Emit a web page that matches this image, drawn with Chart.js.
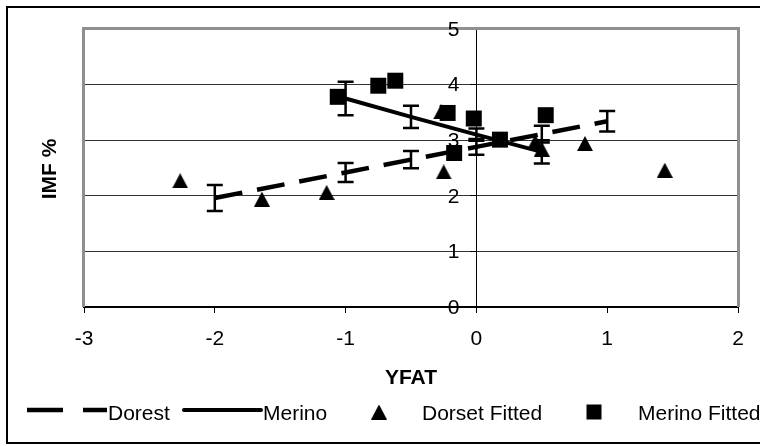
<!DOCTYPE html>
<html><head><meta charset="utf-8">
<script src="https://cdn.jsdelivr.net/npm/chart.js@4.4.0/dist/chart.umd.min.js"></script>
<style>html,body{margin:0;padding:0;background:#fff;}</style>
</head><body>
<canvas id="c" width="760" height="446" style="display:block;width:760px;height:446px"></canvas>
<script>
// ---- data ----
const xTicks = [-3, -2, -1, 0, 1, 2];
const yTicks = [0, 1, 2, 3, 4, 5];
const dorsetLineX = [-2, -1, -0.5, 0, 0.5, 1];
const dorsetLineY = [1.96, 2.42, 2.65, 2.88, 3.11, 3.34];
const dorsetErr   = [0.235, 0.17, 0.155, 0.14, 0.15, 0.185];
const merinoLineX = [-1, -0.5, 0, 0.5];
const merinoLineY = [3.75, 3.42, 3.10, 2.79];
const merinoErr   = [0.30, 0.20, 0.11, 0.21];
const dorsetFitX = [-2.265, -1.64, -1.145, -0.27, -0.25, 0.45, 0.50, 0.83, 1.44];
const dorsetFitY = [2.27, 1.94, 2.06, 3.51, 2.43, 2.97, 2.84, 2.94, 2.46];
const merinoFitX = [-1.06, -0.75, -0.62, -0.22, -0.02, 0.18, 0.53, -0.17];
const merinoFitY = [3.78, 3.98, 4.07, 3.49, 3.39, 3.01, 3.45, 2.77];
const legendLabels = ['Dorest', 'Merino', 'Dorset Fitted', 'Merino Fitted'];
const xTitle = 'YFAT';
const yTitle = 'IMF %';

const FONT = "'Liberation Sans', Arial, sans-serif";
const pts = (xs, ys) => xs.map((v, i) => ({x: v, y: ys[i]}));

// centred triangle marker
function triCanvas(w, h) {
  const c = document.createElement('canvas');
  c.width = w; c.height = h;
  const g = c.getContext('2d');
  g.fillStyle = '#000';
  g.beginPath(); g.moveTo(w / 2, 0); g.lineTo(w, h); g.lineTo(0, h); g.closePath(); g.fill();
  return c;
}
const TRI = triCanvas(16, 15);

const errorBars = {
  id: 'errorBars',
  afterDatasetDraw(chart, args) {
    const ds = chart.data.datasets[args.index];
    if (!ds.errors) return;
    const xs = chart.scales.x, ys = chart.scales.y, ctx = chart.ctx;
    ctx.save();
    ctx.strokeStyle = '#000'; ctx.lineWidth = 2.5; ctx.setLineDash([]); ctx.lineCap = 'butt';
    ds.data.forEach((p, i) => {
      const e = ds.errors[i];
      const px = xs.getPixelForValue(p.x);
      const pt = ys.getPixelForValue(p.y + e), pb = ys.getPixelForValue(p.y - e);
      ctx.beginPath();
      ctx.moveTo(px, pt); ctx.lineTo(px, pb);
      ctx.moveTo(px - 8, pt); ctx.lineTo(px + 8, pt);
      ctx.moveTo(px - 8, pb); ctx.lineTo(px + 8, pb);
      ctx.stroke();
    });
    ctx.restore();
  }
};

const frame = {
  id: 'frame',
  beforeDraw(chart) {
    const ctx = chart.ctx;
    ctx.save();
    ctx.fillStyle = '#fff'; ctx.fillRect(0, 0, 760, 446);
    ctx.strokeStyle = '#000'; ctx.lineWidth = 2;
    ctx.strokeRect(7, 7, 770, 436);
    ctx.restore();
  },
  beforeDatasetsDraw(chart) {
    const a = chart.chartArea, ctx = chart.ctx;
    const xs = chart.scales.x, ys = chart.scales.y;
    ctx.save();
    ctx.strokeStyle = '#8f8f8f'; ctx.lineWidth = 3;
    ctx.beginPath();
    ctx.moveTo(a.left - 0.5, a.bottom); ctx.lineTo(a.left - 0.5, a.top - 0.5);
    ctx.lineTo(a.right + 0.5, a.top - 0.5); ctx.lineTo(a.right + 0.5, a.bottom);
    ctx.stroke();
    // y tick labels, placed left of the crossing axis (x = 0)
    const axisX = xs.getPixelForValue(0);
    ctx.fillStyle = '#000';
    ctx.font = '21px ' + FONT;
    ctx.textAlign = 'right'; ctx.textBaseline = 'middle';
    ys.ticks.forEach(t => {
      ctx.fillText(String(t.value), axisX - 17, ys.getPixelForValue(t.value) + 1);
    });
    ctx.restore();
  },
  afterDraw(chart) {
    const ctx = chart.ctx, a = chart.chartArea;
    ctx.save();
    ctx.fillStyle = '#000';
    // axis titles
    ctx.font = 'bold 21px ' + FONT;
    ctx.textAlign = 'center'; ctx.textBaseline = 'alphabetic';
    ctx.fillText(xTitle, (a.left + a.right) / 2, 384);
    ctx.save();
    ctx.translate(56, 169); ctx.rotate(-Math.PI / 2);
    ctx.fillText(yTitle, 0, 0);
    ctx.restore();
    // legend
    const ly = 410;
    ctx.strokeStyle = '#000';
    ctx.lineWidth = 4.5; ctx.lineCap = 'butt'; ctx.setLineDash([36, 20]);
    ctx.beginPath(); ctx.moveTo(27, ly); ctx.lineTo(107, ly); ctx.stroke();
    ctx.setLineDash([]); ctx.lineWidth = 4; ctx.lineCap = 'round';
    ctx.beginPath(); ctx.moveTo(184, ly); ctx.lineTo(261, ly); ctx.stroke();
    ctx.drawImage(TRI, 379 - 8, 412 - 7.5);
    ctx.fillRect(594 - 7.5, 412 - 7.5, 15, 15);
    ctx.font = '21px ' + FONT; ctx.textAlign = 'left';
    ctx.fillText(legendLabels[0], 108, 420);
    ctx.fillText(legendLabels[1], 263, 420);
    ctx.fillText(legendLabels[2], 422, 420);
    ctx.fillText(legendLabels[3], 638, 420);
    ctx.restore();
  }
};

new Chart(document.getElementById('c'), {
  type: 'scatter',
  data: {
    datasets: [
      { label: legendLabels[0], data: pts(dorsetLineX, dorsetLineY), errors: dorsetErr,
        showLine: true, borderColor: '#000', borderWidth: 4.5, borderDash: [28, 15],
        borderCapStyle: 'butt', pointRadius: 0, order: 4 },
      { label: legendLabels[1], data: pts(merinoLineX, merinoLineY), errors: merinoErr,
        showLine: true, borderColor: '#000', borderWidth: 4, pointRadius: 0, order: 3 },
      { label: legendLabels[2], data: pts(dorsetFitX, dorsetFitY), showLine: false,
        pointStyle: TRI, pointRadius: 8, backgroundColor: '#000', borderColor: '#000', order: 2 },
      { label: legendLabels[3], data: pts(merinoFitX, merinoFitY), showLine: false,
        pointStyle: 'rect', pointRadius: 11.3, borderWidth: 0,
        backgroundColor: '#000', borderColor: '#000', order: 1 }
    ]
  },
  options: {
    responsive: false, animation: false, devicePixelRatio: 1,
    layout: { padding: { left: 84, right: 22, top: 29, bottom: 0 } },
    plugins: { legend: { display: false }, tooltip: { enabled: false } },
    scales: {
      x: {
        type: 'linear', min: -3, max: 2, position: 'bottom',
        afterBuildTicks: s => { s.ticks = xTicks.map(v => ({value: v})); },
        afterFit: s => { s.height = 139; },
        ticks: { font: { family: FONT, size: 21 }, color: '#000', padding: 14, maxRotation: 0,
                 callback: v => String(v) },
        grid: { drawOnChartArea: false, drawTicks: true, tickLength: 6, tickColor: '#000', tickWidth: 1 },
        border: { display: true, color: '#000', width: 2 }
      },
      y: {
        type: 'linear', min: 0, max: 5, position: { x: 0 },
        afterBuildTicks: s => { s.ticks = yTicks.map(v => ({value: v})); },
        ticks: { display: false },
        grid: { color: '#333', lineWidth: 1, drawTicks: true, tickLength: 6, tickColor: '#000' },
        border: { display: true, color: '#000', width: 1 }
      }
    }
  },
  plugins: [frame, errorBars]
});
</script>
</body></html>
